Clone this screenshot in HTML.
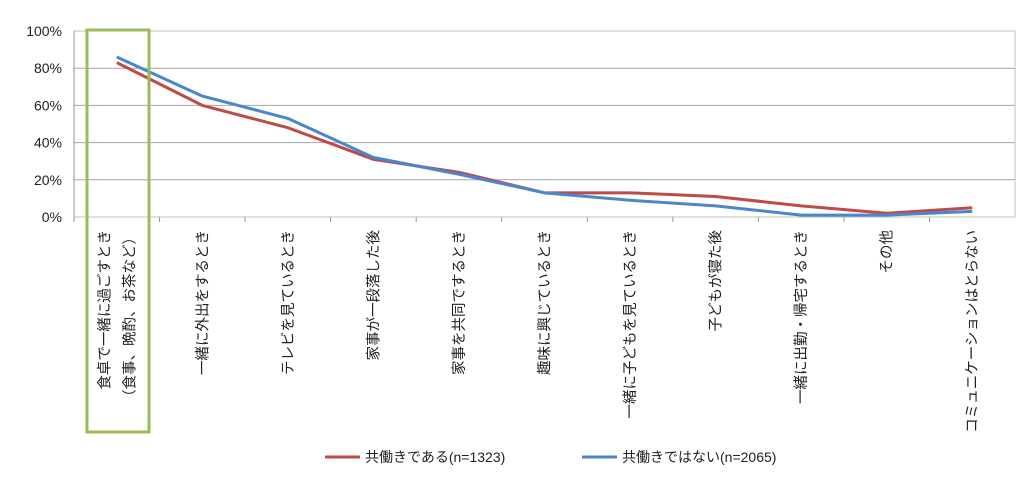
<!DOCTYPE html>
<html><head><meta charset="utf-8"><style>body{margin:0;background:#fff}svg{display:block}</style></head>
<body>
<svg id="chart" width="1034" height="477" xmlns="http://www.w3.org/2000/svg" font-family="Liberation Sans, Noto Sans CJK JP, sans-serif"></svg>
<script>
const categories = [["食卓で一緒に過ごすとき","（食事、晩酌、お茶など）"],["一緒に外出をするとき"],["テレビを見ているとき"],["家事が一段落した後"],["家事を共同でするとき"],["趣味に興じているとき"],["一緒に子どもを見ているとき"],["子どもが寝た後"],["一緒に出勤・帰宅するとき"],["その他"],["コミュニケーションはとらない"]];
const seriesWorking = [83,60,48,31,24,13,13,11,6,2,5];
const seriesNotWorking = [86,65,53,32,23,13,9,6,1,1,3];
const yTicks = [0,20,40,60,80,100];
const seriesNames = ["共働きである(n=1323)","共働きではない(n=2065)"];

const svg = document.getElementById('chart');
const NS = 'http://www.w3.org/2000/svg';
const L=74, R=1015, T=31, B=217;
const bw = (R-L)/categories.length;
const x = i => L + bw*(i+0.5);
const y = v => B - (B-T)*v/100;
function mk(tag, attrs, parent){const e=document.createElementNS(NS,tag);for(const k in attrs)e.setAttribute(k,attrs[k]);(parent||svg).appendChild(e);return e;}

const grid = mk('g',{});


yTicks.forEach(v=>{
  const ln = mk('line',{x1:L,x2:R,y1:y(v),y2:y(v),stroke:'#a6a6a6','stroke-width':1},grid);
  
  
  const t = mk('text',{x:L-12,y:y(v)+5,'text-anchor':'end','font-size':14,fill:'#222'});
  t.textContent = v+'%';
  
  
});
const frame = mk('rect',{x:L,y:T,width:R-L,height:B-T,fill:'none',stroke:'#c4c4a8','stroke-width':1});


const yax = mk('line',{x1:L,x2:L,y1:T,y2:B,stroke:'#999'});



categories.forEach((lines,i)=>{
  const tx = L+bw*i;
  const tk = mk('line',{x1:tx,x2:tx,y1:B,y2:B+5,stroke:'#999'});
  
  
  const n = lines.length;
  lines.forEach((s,j)=>{
    const cx = x(i) + (j-(n-1)/2)*25 + 5;
    const t = mk('text',{transform:`translate(${cx},230) rotate(-90)`,'text-anchor':'end','font-size':14.5,fill:'#222'});
    t.textContent = s;
    
    
  });
});

function line(data,color,name){
  const p = mk('polyline',{points:data.map((v,i)=>x(i)+','+y(v)).join(' '),fill:'none',stroke:color,'stroke-width':3,'stroke-linejoin':'round'});
  
  
}
line(seriesWorking,'#be4b48','series-working');
line(seriesNotWorking,'#4a86d0','series-not-working');

const hl = mk('rect',{x:87,y:30,width:62,height:402,fill:'none',stroke:'#9bbb59','stroke-width':3});



[[325,'#be4b48',seriesNames[0]],[582,'#4a86d0',seriesNames[1]]].forEach(([lx,c,s],k)=>{
  const g = mk('g',{});
  
  
  mk('line',{x1:lx,x2:lx+35,y1:457,y2:457,stroke:c,'stroke-width':3},g);
  const t = mk('text',{x:lx+40,y:462,'font-size':14,fill:'#222'},g);
  t.textContent = s;
});
</script>
</body></html>
